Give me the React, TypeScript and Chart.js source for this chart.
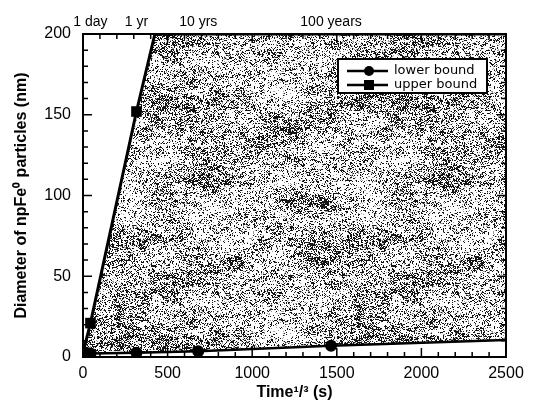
import React, { useEffect, useRef } from "react";
import { Chart, registerables } from "chart.js";

Chart.register(...registerables);

// ---- data ----
const lowerX = [1, 44, 316, 681, 1466, 2500];
const lowerY = [2, 2.2, 2.7, 3.6, 7, 10.5];
const lowerMarker = [true, true, true, true, true, false];

const upperX = [1, 44, 316, 425, 2500];
const upperY = [3, 21, 152, 200, 200];
const upperMarker = [true, true, true, false, false];

const topTickValues = [44, 316, 681, 1466];
const topTickLabels = ["1 day", "1 yr", "10 yrs", "100 years"];

const xTickStep = 500;
const yTickStep = 50;

const FONT = "'Liberation Sans', Arial, Helvetica, sans-serif";
const LEGEND_FONT = "'DejaVu Sans', 'Liberation Sans', sans-serif";

function makePattern(): CanvasPattern | string {
  const size = 240;
  const c = document.createElement("canvas");
  c.width = size;
  c.height = size;
  const ctx = c.getContext("2d");
  if (!ctx) return "rgba(140,140,140,1)";
  const img = ctx.createImageData(size, size);
  const hash = (a: number, b: number, s: number) => {
    let h = (a * 374761393 + b * 668265263 + s * 982451653) | 0;
    h = Math.imul(h ^ (h >>> 13), 1274126177);
    h = h ^ (h >>> 16);
    return ((h >>> 0) % 10000) / 10000;
  };
  const smooth = (x: number, y: number, cx: number, cy: number, s: number) => {
    const gx = x / cx;
    const gy = y / cy;
    const nx = Math.round(size / cx);
    const ny = Math.round(size / cy);
    const x0 = Math.floor(gx);
    const y0 = Math.floor(gy);
    const fx = gx - x0;
    const fy = gy - y0;
    const ux = fx * fx * (3 - 2 * fx);
    const uy = fy * fy * (3 - 2 * fy);
    const v = (a: number, b: number) => hash(((a % nx) + nx) % nx, ((b % ny) + ny) % ny, s);
    const a = v(x0, y0) * (1 - ux) + v(x0 + 1, y0) * ux;
    const b = v(x0, y0 + 1) * (1 - ux) + v(x0 + 1, y0 + 1) * ux;
    return a * (1 - uy) + b * uy;
  };
  for (let y = 0; y < size; y++) {
    for (let x = 0; x < size; x++) {
      const low = smooth(x, y, 12, 4, 7) * 0.5 + smooth(x, y, 40, 20, 3) * 0.5;
      const run = hash(Math.floor((x + (y % 3)) / 3), y, 11);
      const fine = hash(x, y, 5);
      const p = 0.04 + 0.75 * low * low + (run > 0.82 ? 0.22 : 0);
      let g = fine < p ? 20 : 255;
      if (g === 255 && fine < p + 0.07) g = 160;
      const i = (y * size + x) * 4;
      img.data[i] = g;
      img.data[i + 1] = g;
      img.data[i + 2] = g;
      img.data[i + 3] = 255;
    }
  }
  ctx.putImageData(img, 0, 0);
  const pat = ctx.createPattern(c, "repeat");
  return pat || "rgba(140,140,140,1)";
}

const framePlugin = {
  id: "frameTicks",
  afterDatasetsDraw(chart: any) {
    const { ctx, chartArea } = chart;
    const xs = chart.scales.x;
    const ys = chart.scales.y;
    const { left, right, top, bottom } = chartArea;
    ctx.save();
    ctx.strokeStyle = "#000";
    ctx.lineWidth = 1.5;
    for (let v = 0; v <= 2500; v += 100) {
      const px = xs.getPixelForValue(v);
      const len = v % 500 === 0 ? 9 : 5;
      ctx.beginPath();
      ctx.moveTo(px, bottom);
      ctx.lineTo(px, bottom - len);
      ctx.moveTo(px, top);
      ctx.lineTo(px, top + len);
      ctx.stroke();
    }
    for (let v = 0; v <= 200; v += 10) {
      const py = ys.getPixelForValue(v);
      const len = v % 50 === 0 ? 9 : 5;
      ctx.beginPath();
      ctx.moveTo(left, py);
      ctx.lineTo(left + len, py);
      ctx.moveTo(right, py);
      ctx.lineTo(right - len, py);
      ctx.stroke();
    }
    ctx.lineWidth = 2;
    ctx.strokeRect(left, top, right - left, bottom - top);

    // legend
    const bx = left + 255;
    const by = top + 25;
    const bw = 149;
    const bh = 34;
    ctx.fillStyle = "#fff";
    ctx.fillRect(bx, by, bw, bh);
    ctx.lineWidth = 2;
    ctx.strokeRect(bx, by, bw, bh);
    const rows = [
      { label: "lower bound", style: "circle", y: by + 12 },
      { label: "upper bound", style: "rect", y: by + 26 },
    ];
    ctx.font = `13px ${LEGEND_FONT}`;
    ctx.textBaseline = "middle";
    ctx.textAlign = "left";
    rows.forEach((r) => {
      ctx.strokeStyle = "#000";
      ctx.lineWidth = 2.5;
      ctx.beginPath();
      ctx.moveTo(bx + 9, r.y);
      ctx.lineTo(bx + 50, r.y);
      ctx.stroke();
      ctx.fillStyle = "#000";
      if (r.style === "circle") {
        ctx.beginPath();
        ctx.arc(bx + 31, r.y, 5, 0, Math.PI * 2);
        ctx.fill();
      } else {
        ctx.fillRect(bx + 26, r.y - 5, 10, 10);
      }
      ctx.fillText(r.label, bx + 56, r.y);
    });
    ctx.restore();
  },
};

export default function App() {
  const ref = useRef<HTMLCanvasElement | null>(null);

  useEffect(() => {
    document.body.style.margin = "0";
    const canvas = ref.current;
    if (!canvas) return;
    const pattern = makePattern();
    const chart = new Chart(canvas, {
      type: "line",
      data: {
        datasets: [
          {
            label: "lower bound",
            data: lowerX.map((x, i) => ({ x, y: lowerY[i] })),
            borderColor: "#000",
            backgroundColor: "#000",
            borderWidth: 2.5,
            pointStyle: "circle",
            pointRadius: lowerMarker.map((m) => (m ? 6 : 0)),
            pointBorderWidth: 0,
            pointBackgroundColor: "#000",
            fill: false,
            tension: 0,
            xAxisID: "x",
            yAxisID: "y",
          },
          {
            label: "upper bound",
            data: upperX.map((x, i) => ({ x, y: upperY[i] })),
            borderColor: "#000",
            backgroundColor: pattern as any,
            borderWidth: 3,
            pointStyle: "rect",
            pointRadius: upperMarker.map((m) => (m ? 7.5 : 0)),
            pointBorderWidth: 0,
            pointBackgroundColor: "#000",
            fill: { target: 0 },
            tension: 0,
            xAxisID: "x",
            yAxisID: "y",
          },
        ],
      },
      options: {
        responsive: false,
        animation: false,
        events: [],
        layout: { padding: { left: 0, right: 30, top: 0, bottom: 0 } },
        plugins: {
          legend: { display: false },
          tooltip: { enabled: false },
          filler: { propagate: false },
        },
        scales: {
          x: {
            type: "linear",
            position: "bottom",
            min: 0,
            max: 2500,
            ticks: {
              stepSize: xTickStep,
              color: "#000",
              font: { family: FONT, size: 16 },
              padding: 7,
              maxRotation: 0,
              callback: (v: any) => String(v),
            },
            grid: { display: false, drawTicks: false },
            border: { display: false },
            title: {
              display: true,
              text: "Time¹/³ (s)",
              color: "#000",
              font: { family: FONT, size: 16, weight: "bold" },
              padding: { top: 0, bottom: 10 },
            },
            afterFit: (s: any) => {
              s.height = 55;
            },
          },
          xTop: {
            type: "linear",
            position: "top",
            min: 0,
            max: 2500,
            afterBuildTicks: (s: any) => {
              s.ticks = topTickValues.map((v) => ({ value: v }));
            },
            ticks: {
              autoSkip: false,
              maxRotation: 0,
              color: "#000",
              font: { family: FONT, size: 14 },
              padding: 3,
              callback: (_v: any, i: number) => topTickLabels[i],
            },
            grid: { display: false, drawTicks: false },
            border: { display: false },
            afterFit: (s: any) => {
              s.height = 34;
            },
          },
          y: {
            type: "linear",
            min: 0,
            max: 200,
            ticks: {
              stepSize: yTickStep,
              color: "#000",
              font: { family: FONT, size: 16 },
              padding: 12,
              callback: (v: any) => String(v),
            },
            grid: { display: false, drawTicks: false },
            border: { display: false },
            title: {
              display: true,
              text: "Diameter of npFe⁰ particles (nm)",
              color: "#000",
              font: { family: FONT, size: 16, weight: "bold" },
              padding: { top: 12, bottom: 0 },
            },
            afterFit: (s: any) => {
              s.width = 83;
            },
          },
        },
      },
      plugins: [framePlugin],
    });
    return () => chart.destroy();
  }, []);

  return (
    <div style={{ width: 536, height: 412 }}>
      <canvas ref={ref} width={536} height={412} style={{ display: "block" }} />
    </div>
  );
}
